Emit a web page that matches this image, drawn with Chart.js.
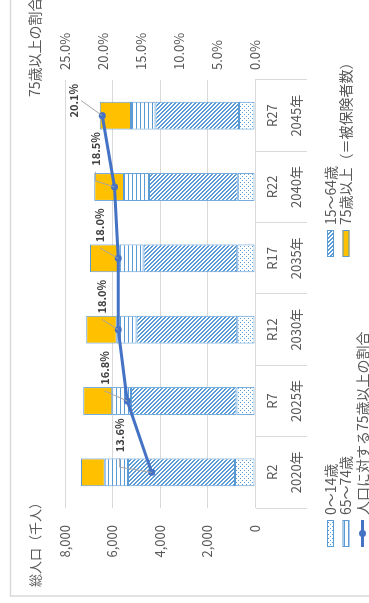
<!DOCTYPE html>
<html>
<head>
<meta charset="utf-8">
<script src="https://cdn.jsdelivr.net/npm/chart.js@4/dist/chart.umd.min.js"></script>
<style>
  html, body { margin: 0; padding: 0; background: #fff; overflow: hidden; }
  /* chart is laid out landscape and turned a quarter turn */
  #wrap {
    position: absolute; left: 0; top: 0;
    width: 603px; height: 369px;
    transform-origin: 0 0;
    transform: translateY(603px) rotate(-90deg);
  }
</style>
</head>
<body>
<div id="wrap"><canvas id="myChart" width="603" height="369"></canvas></div>
<script>
const eras = ['R2', 'R7', 'R12', 'R17', 'R22', 'R27']
const years = ['2020年', '2025年', '2030年', '2035年', '2040年', '2045年']

// 千人
const pop0to14 = [845, 775, 745, 745, 730, 675]
const pop15to64 = [4500, 4450, 4240, 3945, 3735, 3510]
const pop65to74 = [985, 790, 840, 1010, 1050, 1040]
const pop75plus = [995, 1215, 1280, 1250, 1250, 1315]

// %
const ratio75 = [13.6, 16.8, 18.0, 18.0, 18.5, 20.1]

const popTicks = [0, 2000, 4000, 6000, 8000]
const ratioTicks = [0, 5, 10, 15, 20, 25]

const FONT = "'Noto Sans CJK JP', 'Noto Sans', sans-serif"
const BLUE = '#5B9BD5'
const LINE_BLUE = '#4472C4'
const GRID = '#D9D9D9'
const TEXT = '#595959'

Chart.defaults.font.family = FONT
Chart.defaults.color = TEXT

function makePattern(kind) {
  const c = document.createElement('canvas')
  c.width = 4
  c.height = 4
  const p = c.getContext('2d')
  p.fillStyle = '#fff'
  p.fillRect(0, 0, 4, 4)
  p.fillStyle = BLUE
  if (kind === 'dots') {
    p.fillRect(0, 0, 1, 1)
    p.fillRect(2, 2, 1, 1)
  } else if (kind === 'diag') {
    for (let i = 0; i < 4; i++) {
      p.fillRect(i, i, 1, 1)
      p.fillRect((i + 1) % 4, i, 1, 1)
    }
  } else if (kind === 'hlines') {
    p.fillRect(0, 0, 4, 1)
  }
  return p.createPattern(c, 'repeat')
}

const labels = eras.map((e, i) => [e, years[i]])

function barSet(label, data, bg) {
  return {
    type: 'bar',
    label: label,
    data: data,
    backgroundColor: bg,
    borderColor: BLUE,
    borderWidth: 1,
    borderSkipped: false,
    categoryPercentage: 1,
    barPercentage: 0.39,
    yAxisID: 'y',
    order: 1
  }
}

// leader-lined value labels for the ratio line
const ratioLabels = {
  id: 'ratioLabels',
  afterDatasetsDraw(chart, args, opts) {
    const ctx = chart.ctx
    const meta = chart.getDatasetMeta(4)
    const ds = chart.data.datasets[4]
    ctx.save()
    ctx.font = 'bold 11px ' + FONT
    ctx.textAlign = 'center'
    ctx.textBaseline = 'middle'
    meta.data.forEach((pt, i) => {
      const txt = ds.data[i].toFixed(1) + '%'
      const off = opts.offsets[i]
      const cx = pt.x + off[0]
      const cy = pt.y + off[1]
      const w = ctx.measureText(txt).width
      const left = cx - w / 2
      ctx.strokeStyle = '#A6A6A6'
      ctx.lineWidth = 1
      ctx.beginPath()
      if (left - 6 - pt.x > 8) {
        const sx = left - 6
        ctx.moveTo(sx, cy)
        const ex = sx - 9
        if (ex > pt.x + 2) ctx.lineTo(ex, cy)
        ctx.lineTo(pt.x, pt.y)
      } else {
        ctx.moveTo(cx, cy + 7)
        ctx.lineTo(pt.x, pt.y)
      }
      ctx.stroke()
      ctx.fillStyle = '#404040'
      ctx.fillText(txt, cx, cy)
    })
    ctx.restore()
  }
}

// frame, axis titles and the two-column legend
const decor = {
  id: 'decor',
  beforeDraw(chart) {
    const ctx = chart.ctx
    ctx.save()
    ctx.fillStyle = '#fff'
    ctx.fillRect(0, 0, chart.width, chart.height)
    ctx.strokeStyle = '#D9D9D9'
    ctx.lineWidth = 1.5
    ctx.strokeRect(7, 10.5, 700, 500)
    ctx.restore()
  },
  afterDraw(chart, args, opts) {
    const ctx = chart.ctx
    ctx.save()
    ctx.fillStyle = TEXT
    ctx.textBaseline = 'middle'
    ctx.textAlign = 'left'
    ctx.font = '13px ' + FONT
    ctx.fillText('総人口（千人）', 16, 35)
    ctx.font = '14px ' + FONT
    ctx.fillText('75歳以上の割合', 506, 35)

    const slots = opts.slots
    chart.data.datasets.forEach((ds, i) => {
      const x = opts.cols[slots[i][0]]
      const y = opts.rows[slots[i][1]]
      if (ds.type === 'line') {
        ctx.strokeStyle = ds.borderColor
        ctx.lineWidth = 3
        ctx.beginPath()
        ctx.moveTo(x, y)
        ctx.lineTo(x + 27, y)
        ctx.stroke()
        ctx.fillStyle = ds.borderColor
        ctx.beginPath()
        ctx.arc(x + 13.5, y, 3.5, 0, Math.PI * 2)
        ctx.fill()
      } else {
        ctx.fillStyle = ds.backgroundColor
        ctx.fillRect(x, y - 3.5, 27, 7)
        ctx.strokeStyle = BLUE
        ctx.lineWidth = 1
        ctx.strokeRect(x + 0.5, y - 3, 26, 6)
      }
      ctx.fillStyle = TEXT
      ctx.font = '14px ' + FONT
      ctx.fillText(ds.label, x + 32, y)
    })
    ctx.restore()
  }
}

const canvas = document.getElementById('myChart')
const ctx = canvas.getContext('2d')

const myChart = new Chart(ctx, {
  data: {
    labels: labels,
    datasets: [
      barSet('0〜14歳', pop0to14, makePattern('dots')),
      barSet('15〜64歳', pop15to64, makePattern('diag')),
      barSet('65〜74歳', pop65to74, makePattern('hlines')),
      barSet('75歳以上（＝被保険者数）', pop75plus, '#FFC000'),
      {
        type: 'line',
        label: '人口に対する75歳以上の割合',
        data: ratio75,
        borderColor: LINE_BLUE,
        backgroundColor: LINE_BLUE,
        borderWidth: 3,
        pointRadius: 3.5,
        pointBackgroundColor: LINE_BLUE,
        pointBorderWidth: 0,
        tension: 0,
        yAxisID: 'y1',
        order: 0
      }
    ]
  },
  options: {
    responsive: false,
    animation: false,
    devicePixelRatio: 1,
    layout: { padding: { top: 65, left: 0, right: 0, bottom: 0 } },
    plugins: {
      legend: { display: false },
      tooltip: { enabled: false },
      ratioLabels: {
        offsets: [[37, -32], [33, -23], [33, -16], [33, -18], [38, -19], [15, -28]]
      },
      decor: {
        cols: [56, 346],
        rows: [330.5, 346, 362.5],
        slots: [[0, 0], [1, 0], [0, 1], [1, 1], [0, 2]]
      }
    },
    scales: {
      x: {
        stacked: true,
        offset: true,
        grid: { display: true, drawOnChartArea: false, drawTicks: true, tickLength: 52, color: GRID, offset: true },
        border: { display: true, color: GRID },
        ticks: {
          padding: -47, autoSkip: false, maxRotation: 0, color: TEXT,
          font: { size: 13, lineHeight: 1.85 }
        },
        afterFit: s => { s.height = 114 }
      },
      y: {
        stacked: true,
        min: popTicks[0],
        max: popTicks[popTicks.length - 1],
        afterBuildTicks: s => { s.ticks = popTicks.map(v => ({ value: v })) },
        ticks: { padding: 17, color: TEXT, font: { size: 13 }, callback: v => v.toLocaleString('en-US') },
        grid: { color: GRID, drawTicks: false },
        border: { display: false },
        afterFit: s => { s.width = 95 }
      },
      y1: {
        position: 'right',
        min: ratioTicks[0],
        max: ratioTicks[ratioTicks.length - 1],
        afterBuildTicks: s => { s.ticks = ratioTicks.map(v => ({ value: v })) },
        ticks: { padding: 10, color: TEXT, font: { size: 13 }, callback: v => v.toFixed(1) + '%' },
        grid: { display: false, drawTicks: false },
        border: { display: false },
        afterFit: s => { s.width = 80 }
      }
    }
  },
  plugins: [ratioLabels, decor]
})
</script>
</body>
</html>
